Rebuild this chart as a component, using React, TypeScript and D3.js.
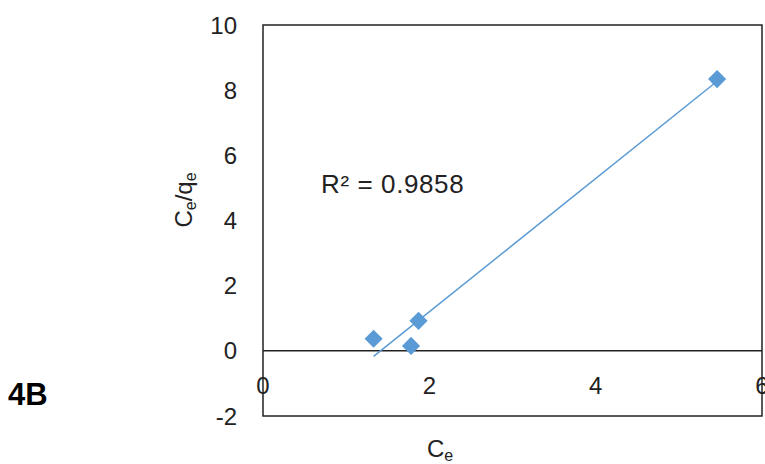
import React from "react";
import * as d3 from "d3";

const ce = [1.33, 1.78, 1.87, 5.46];
const ceQe = [0.37, 0.15, 0.92, 8.34];
const xTicks = [0, 2, 4, 6];
const yTicks = [-2, 0, 2, 4, 6, 8, 10];
const r2Label = "R² = 0.9858";

const W = 765;
const H = 464;
const m = { left: 263, right: 3, top: 25, bottom: 48 };

export default function App() {
  const x = d3.scaleLinear().domain([0, 6]).range([m.left, W - m.right]);
  const y = d3.scaleLinear().domain([-2, 10]).range([H - m.bottom, m.top]);

  const pts = ce.map((v, i) => ({ x: v, y: ceQe[i] }));
  const mx = d3.mean(ce)!;
  const my = d3.mean(ceQe)!;
  const sxy = d3.sum(pts, (p) => (p.x - mx) * (p.y - my));
  const sxx = d3.sum(pts, (p) => (p.x - mx) ** 2);
  const slope = sxy / sxx;
  const icpt = my - slope * mx;
  const [x0, x1] = d3.extent(ce) as [number, number];
  const trend = d3.line<number>()
    .x((d) => x(d))
    .y((d) => y(slope * d + icpt))([x0, x1]);

  const diamond = d3.symbol().type(d3.symbolDiamond2).size(210)();

  const font = "'Liberation Sans', Arial, sans-serif";

  return (
    <svg width={W} height={H} style={{ position: "absolute", left: 0, top: 0 }} fontFamily={font}>
      <rect x={x(0)} y={y(10)} width={x(6) - x(0)} height={y(-2) - y(10)} fill="none" stroke="#222" strokeWidth={1.5} />
      <line x1={x(0)} x2={x(6)} y1={y(0)} y2={y(0)} stroke="#222" strokeWidth={1.5} />

      {yTicks.map((t) => (
        <text key={t} x={237} y={y(t)} textAnchor="end" dominantBaseline="central" fontSize={24} fill="#222">
          {t}
        </text>
      ))}
      {xTicks.map((t) => (
        <text key={t} x={x(t)} y={y(0) + 43} textAnchor="middle" fontSize={24} fill="#222">
          {t}
        </text>
      ))}

      <path d={trend ?? ""} stroke="#5B9BD5" strokeWidth={1.5} fill="none" />
      {pts.map((p, i) => (
        <path key={i} d={diamond ?? ""} transform={`translate(${x(p.x)},${y(p.y)})`} fill="#5B9BD5" />
      ))}

      <text x={321} y={193} fontSize={26} letterSpacing={0.6} fill="#222">{r2Label}</text>

      <text transform={`translate(192,200) rotate(-90)`} textAnchor="middle" fontSize={24} fill="#222">
        C<tspan fontSize={16} dy={4}>e</tspan><tspan dy={-4}>/q</tspan><tspan fontSize={16} dy={4}>e</tspan>
      </text>
      <text x={440} y={457} textAnchor="middle" fontSize={24} fill="#222">
        C<tspan fontSize={16} dy={4}>e</tspan>
      </text>

      <text x={8} y={405} fontSize={31} fontWeight="bold" fill="#000">4B</text>
    </svg>
  );
}
